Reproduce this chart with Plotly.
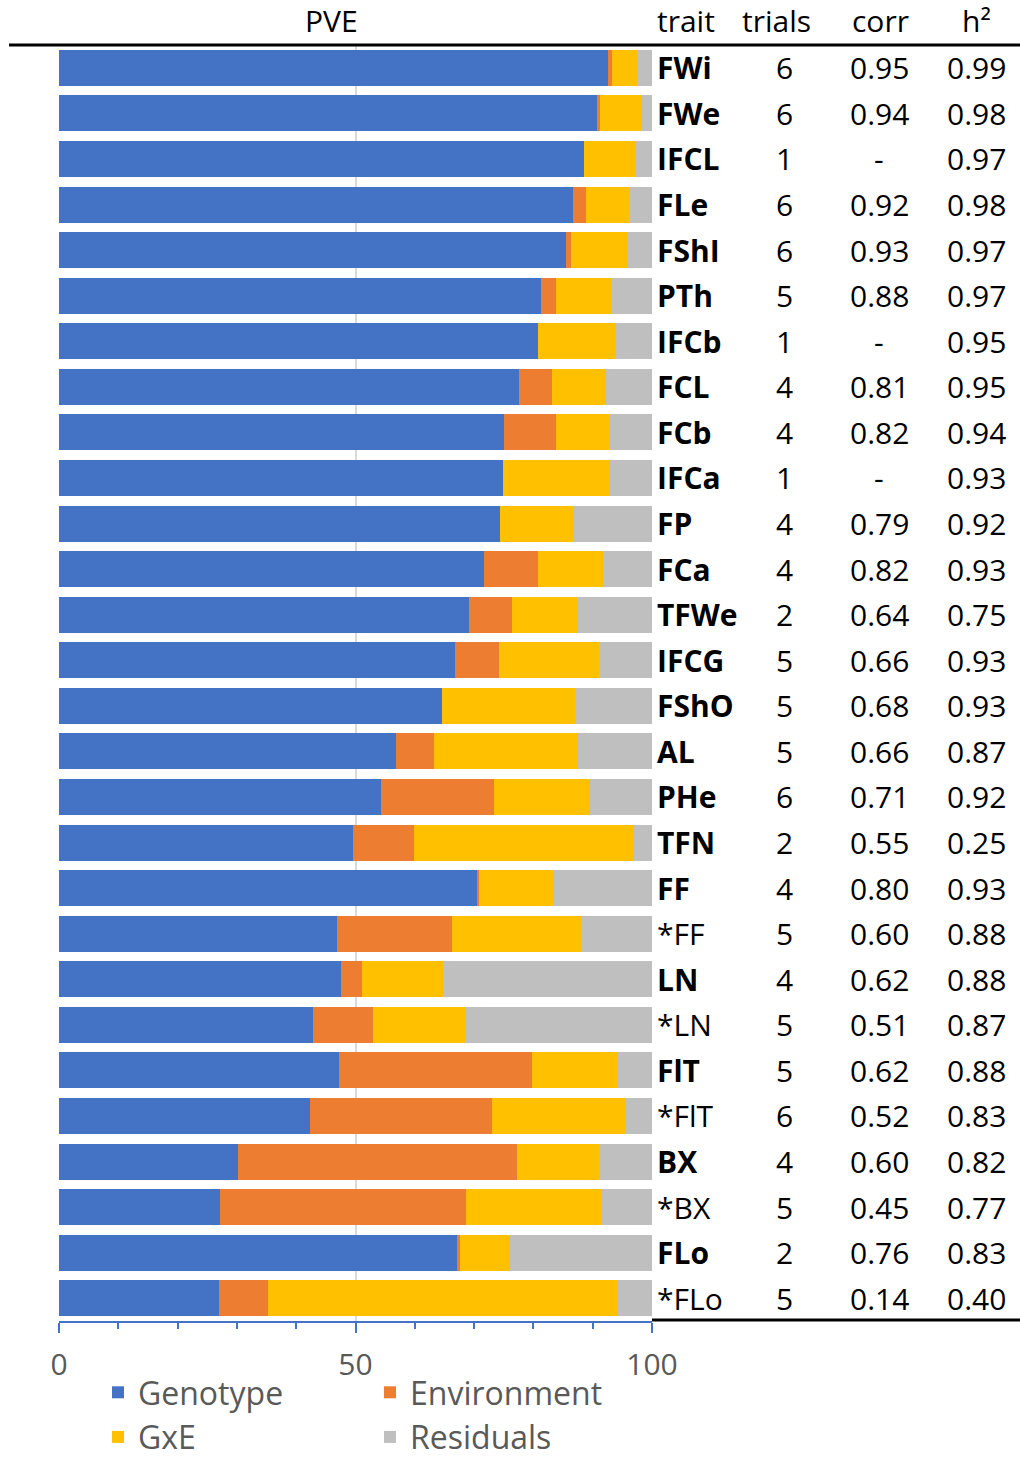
import plotly.graph_objects as go

traits = ["FWi", "FWe", "IFCL", "FLe", "FShI", "PTh", "IFCb", "FCL", "FCb", "IFCa",
          "FP", "FCa", "TFWe", "IFCG", "FShO", "AL", "PHe", "TFN", "FF", "*FF",
          "LN", "*LN", "FlT", "*FlT", "BX", "*BX", "FLo", "*FLo"]
genotype = [92.5, 90.7, 88.5, 86.6, 85.5, 81.2, 80.8, 77.6, 75.0, 74.8,
            74.4, 71.6, 69.1, 66.7, 64.6, 56.9, 54.3, 49.5, 70.5, 46.9,
            47.5, 42.8, 47.3, 42.4, 30.2, 27.2, 67.1, 27.0]
environment = [0.8, 0.6, 0.0, 2.3, 0.9, 2.6, 0.0, 5.6, 8.8, 0.0,
               0.0, 9.2, 7.3, 7.5, 0.0, 6.4, 19.0, 10.4, 0.4, 19.3,
               3.6, 10.1, 32.4, 30.6, 47.0, 41.4, 0.5, 8.3]
gxe = [4.2, 6.9, 8.8, 7.3, 9.5, 9.3, 13.2, 9.0, 9.1, 18.1,
       12.5, 11.0, 11.0, 16.9, 22.4, 24.3, 16.2, 37.0, 12.4, 21.9,
       13.7, 15.5, 14.5, 22.4, 13.9, 22.9, 8.5, 59.0]
residuals = [2.5, 1.8, 2.7, 3.8, 4.1, 6.9, 6.0, 7.8, 7.1, 7.1,
             13.1, 8.2, 12.6, 8.9, 13.0, 12.4, 10.5, 3.1, 16.7, 11.9,
             35.2, 31.6, 5.8, 4.6, 8.9, 8.5, 23.9, 5.7]
trials = [6, 6, 1, 6, 6, 5, 1, 4, 4, 1, 4, 4, 2, 5, 5, 5, 6, 2, 4, 5, 4, 5, 5, 6, 4, 5, 2, 5]
corr = ["0.95", "0.94", "-", "0.92", "0.93", "0.88", "-", "0.81", "0.82", "-",
        "0.79", "0.82", "0.64", "0.66", "0.68", "0.66", "0.71", "0.55", "0.80", "0.60",
        "0.62", "0.51", "0.62", "0.52", "0.60", "0.45", "0.76", "0.14"]
h2 = ["0.99", "0.98", "0.97", "0.98", "0.97", "0.97", "0.95", "0.95", "0.94", "0.93",
      "0.92", "0.93", "0.75", "0.93", "0.93", "0.87", "0.92", "0.25", "0.93", "0.88",
      "0.88", "0.87", "0.88", "0.83", "0.82", "0.77", "0.83", "0.40"]
x_ticks = [0, 50, 100]

FONT = "Open Sans"
W, H = 1020, 1460
L, R, T, B = 59, 368, 45, 139
PW = W - L - R
PH = H - T - B


def px_to_paper_x(px):
    return (px - L) / PW


def px_to_paper_y(py):
    return 1 - (py - T) / PH


series = [
    ("Genotype", genotype, "#4472C4", "legend"),
    ("Environment", environment, "#ED7D31", "legend2"),
    ("GxE", gxe, "#FFC000", "legend"),
    ("Residuals", residuals, "#BFBFBF", "legend2"),
]

fig = go.Figure()
for name, vals, color, leg in series:
    fig.add_trace(go.Bar(
        name=name, y=traits, x=vals, orientation="h",
        marker=dict(color=color, line=dict(width=0)),
        legend=leg, legendgroup=name,
    ))

annotations = []
txt_font = dict(family=FONT, size=30, color="#000000")
for i, t in enumerate(traits):
    bold = not t.startswith("*")
    annotations.append(dict(
        x=px_to_paper_x(655), xref="paper", y=t, yref="y",
        text=f"<b>{t}</b>" if bold else t, showarrow=False,
        xanchor="left", yanchor="middle", font=txt_font,
    ))
    annotations.append(dict(
        x=px_to_paper_x(784), xref="paper", y=t, yref="y",
        text=str(trials[i]), showarrow=False,
        xanchor="center", yanchor="middle", font=txt_font,
    ))
    annotations.append(dict(
        x=px_to_paper_x(879), xref="paper", y=t, yref="y",
        text=corr[i], showarrow=False,
        xanchor="center", yanchor="middle", font=txt_font,
    ))
    annotations.append(dict(
        x=px_to_paper_x(976), xref="paper", y=t, yref="y",
        text=h2[i], showarrow=False,
        xanchor="center", yanchor="middle", font=txt_font,
    ))

headers = [("PVE", 331, "center"), ("trait", 655, "left"), ("trials", 776, "center"),
           ("corr", 880, "center"), ("h²", 976, "center")]
for text, xp, anc in headers:
    annotations.append(dict(
        x=px_to_paper_x(xp), xref="paper", y=px_to_paper_y(21), yref="paper",
        text=text, showarrow=False, xanchor=anc, yanchor="middle", font=txt_font,
    ))

shapes = [
    dict(type="line", xref="paper", yref="paper",
         x0=px_to_paper_x(9), x1=px_to_paper_x(1020), y0=px_to_paper_y(45), y1=px_to_paper_y(45),
         line=dict(color="#000000", width=3)),
    dict(type="line", xref="paper", yref="paper",
         x0=px_to_paper_x(652), x1=px_to_paper_x(1020), y0=px_to_paper_y(1320), y1=px_to_paper_y(1320),
         line=dict(color="#000000", width=3)),
]

legend_font = dict(family=FONT, size=32, color="#595959")
fig.update_layout(
    width=W, height=H,
    margin=dict(l=L, r=R, t=T, b=B, autoexpand=False),
    paper_bgcolor="white", plot_bgcolor="white",
    barmode="stack", bargap=0.21,
    font=dict(family=FONT),
    annotations=annotations, shapes=shapes,
    legend=dict(x=px_to_paper_x(98), y=px_to_paper_y(1365), xanchor="left", yanchor="top",
                orientation="v", font=legend_font, bgcolor="rgba(0,0,0,0)",
                traceorder="grouped", tracegroupgap=0),
    legend2=dict(x=px_to_paper_x(370), y=px_to_paper_y(1365), xanchor="left", yanchor="top",
                 orientation="v", font=legend_font, bgcolor="rgba(0,0,0,0)",
                 traceorder="grouped", tracegroupgap=0),
    xaxis=dict(
        range=[0, 100], tickvals=x_ticks, showgrid=True, gridcolor="#D9D9D9", gridwidth=1.5,
        zeroline=False, showline=True, linecolor="#4472C4", linewidth=2,
        ticks="outside", ticklen=10, tickwidth=2, tickcolor="#4472C4",
        minor=dict(dtick=10, ticks="outside", ticklen=6, tickwidth=2, tickcolor="#4472C4", showgrid=False),
        tickfont=dict(family=FONT, size=30, color="#595959"),
        ticklabelstandoff=6,
    ),
    yaxis=dict(
        categoryorder="array", categoryarray=traits, autorange="reversed",
        showticklabels=False, showgrid=False, zeroline=False, showline=False,
    ),
)

fig.write_html("out.html", config={"displayModeBar": False},
               post_script="document.body.style.margin='0';")
